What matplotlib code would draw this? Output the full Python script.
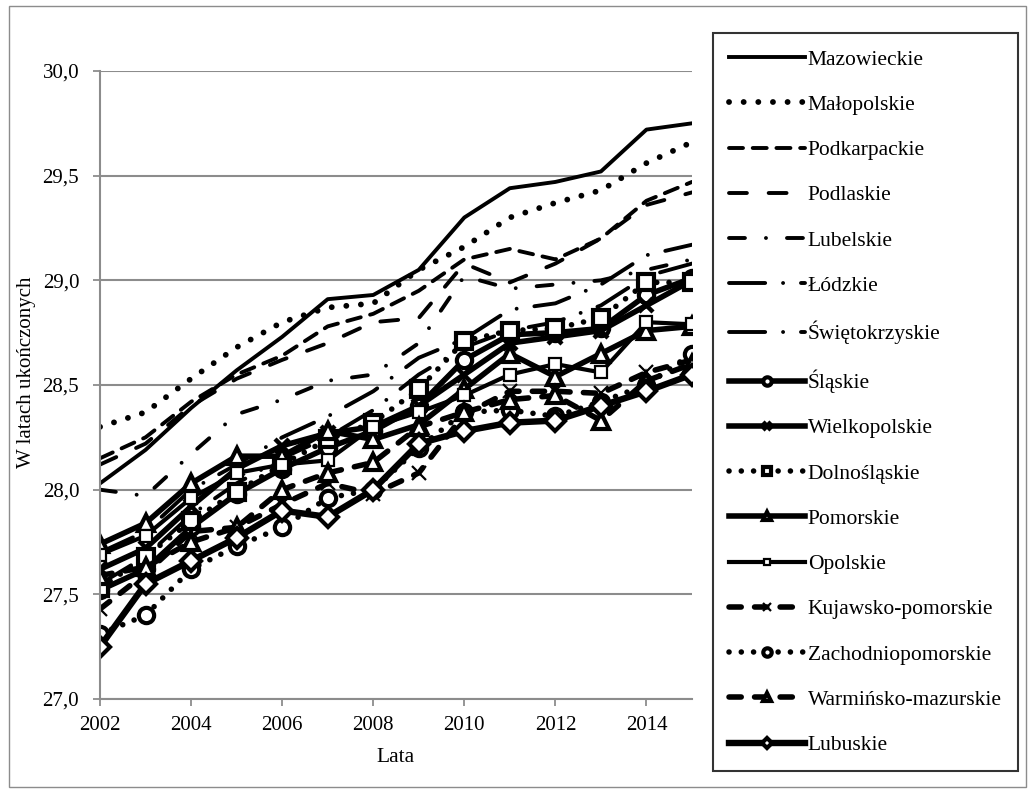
import matplotlib
matplotlib.use("Agg")
import matplotlib.pyplot as plt
from matplotlib.patches import Rectangle
from matplotlib.ticker import FuncFormatter

plt.rcParams['font.family'] = ['Liberation Serif', 'DejaVu Serif']

years = list(range(2002, 2016))

mazowieckie = [28.03, 28.19, 28.39, 28.57, 28.73, 28.91, 28.93, 29.05, 29.30, 29.44, 29.47, 29.52, 29.72, 29.75]
malopolskie = [28.30, 28.37, 28.53, 28.68, 28.80, 28.87, 28.89, 29.05, 29.16, 29.30, 29.37, 29.43, 29.56, 29.66]
podkarpackie = [28.15, 28.25, 28.42, 28.55, 28.64, 28.78, 28.84, 28.95, 29.10, 29.15, 29.10, 29.20, 29.38, 29.47]
podlaskie = [28.12, 28.22, 28.40, 28.53, 28.62, 28.70, 28.80, 28.82, 29.08, 28.99, 29.08, 29.20, 29.36, 29.42]
lubelskie = [28.00, 27.97, 28.17, 28.36, 28.43, 28.52, 28.55, 28.70, 29.02, 28.96, 28.98, 29.00, 29.05, 29.10]
lodzkie = [27.70, 27.80, 28.00, 28.12, 28.25, 28.35, 28.47, 28.63, 28.72, 28.86, 28.89, 28.98, 29.12, 29.17]
swietokrzyskie = [27.55, 27.68, 27.88, 28.03, 28.15, 28.25, 28.38, 28.55, 28.68, 28.76, 28.80, 28.88, 29.02, 29.08]
slaskie = [27.52, 27.62, 27.82, 27.98, 28.10, 28.20, 28.28, 28.40, 28.62, 28.74, 28.75, 28.77, 28.93, 29.01]
wielkopolskie = [27.62, 27.72, 27.92, 28.10, 28.21, 28.27, 28.30, 28.40, 28.55, 28.70, 28.73, 28.76, 28.88, 29.00]
dolnoslaskie = [27.53, 27.68, 27.85, 27.99, 28.12, 28.24, 28.32, 28.48, 28.71, 28.76, 28.77, 28.82, 28.99, 28.99]
pomorskie = [27.74, 27.84, 28.03, 28.16, 28.16, 28.28, 28.24, 28.31, 28.48, 28.65, 28.54, 28.65, 28.76, 28.78]
opolskie = [27.69, 27.78, 27.96, 28.08, 28.12, 28.14, 28.30, 28.37, 28.45, 28.55, 28.60, 28.56, 28.80, 28.79]
kujawsko = [27.43, 27.60, 27.80, 27.82, 27.93, 28.03, 27.98, 28.08, 28.36, 28.47, 28.47, 28.46, 28.56, 28.62]
zachodniopomorskie = [27.31, 27.40, 27.62, 27.73, 27.82, 27.96, 28.00, 28.20, 28.37, 28.38, 28.35, 28.42, 28.50, 28.65]
warminsko = [27.59, 27.63, 27.75, 27.82, 28.00, 28.08, 28.13, 28.30, 28.37, 28.43, 28.45, 28.33, 28.52, 28.60]
lubuskie = [27.25, 27.55, 27.66, 27.77, 27.90, 27.87, 28.00, 28.22, 28.28, 28.32, 28.33, 28.40, 28.47, 28.55]

fig = plt.figure(figsize=(10.29, 7.93), dpi=100)
ax = fig.add_axes([0.0972, 0.1185, 0.5753, 0.792])

thin = 2.8
thick = 4.0
dots = (0, (0.01, 2.2))
dashes = (0, (2.2, 2.4))

ax.plot(years, mazowieckie, color='black', lw=thin, label='Mazowieckie')
ax.plot(years, malopolskie, color='black', lw=4.2, ls=(0, (0.01, 2.5)),
        dash_capstyle='round', label='Małopolskie')
ax.plot(years, podkarpackie, color='black', lw=thin, ls=(0, (3.6, 2.5)),
        dash_capstyle='round', label='Podkarpackie')
ax.plot(years, podlaskie, color='black', lw=thin, ls=(0, (4.6, 5.6)),
        dash_capstyle='round', label='Podlaskie')
ax.plot(years, lubelskie, color='black', lw=thin, ls=(0, (4.1, 5.4, 0.01, 5.4)),
        dash_capstyle='round', label='Lubelskie')
ax.plot(years, lodzkie, color='black', lw=thin, ls=(0, (9.3, 4.6, 0.01, 4.6)),
        dash_capstyle='round', label='Łódzkie')
ax.plot(years, swietokrzyskie, color='black', lw=thin, ls=(0, (9.3, 4.6, 0.01, 4.6)),
        dash_capstyle='round', label='Świętokrzyskie')
ax.plot(years, slaskie, color='black', lw=thick, marker='o', ms=11,
        mfc='white', mec='black', mew=3, label='Śląskie')
ax.plot(years, wielkopolskie, color='black', lw=thick, marker='x', ms=10,
        mec='black', mew=3.2, label='Wielkopolskie')
ax.plot(years, dolnoslaskie, color='black', lw=thick, ls=dots, dash_capstyle='round',
        marker='s', ms=11, mfc='white', mec='black', mew=3, label='Dolnośląskie')
ax.plot(years, pomorskie, color='black', lw=thick, marker='^', ms=11,
        mfc='white', mec='black', mew=3, label='Pomorskie')
ax.plot(years, opolskie, color='black', lw=3, marker='s', ms=9,
        mfc='white', mec='black', mew=1.6, label='Opolskie')
ax.plot(years, kujawsko, color='black', lw=thick, ls=dashes, dash_capstyle='round',
        marker='x', ms=10, mec='black', mew=1.6, label='Kujawsko-pomorskie')
ax.plot(years, zachodniopomorskie, color='black', lw=thick, ls=dots, dash_capstyle='round',
        marker='o', ms=11, mfc='white', mec='black', mew=3, label='Zachodniopomorskie')
ax.plot(years, warminsko, color='black', lw=thick, ls=dashes, dash_capstyle='round',
        marker='^', ms=11, mfc='white', mec='black', mew=3, label='Warmińsko-mazurskie')
ax.plot(years, lubuskie, color='black', lw=4.6, marker='D', ms=10,
        mfc='white', mec='black', mew=3, label='Lubuskie')

ax.set_xlim(2002, 2015)
ax.set_ylim(27.0, 30.0)
ax.set_xticks(range(2002, 2015, 2))
ax.set_yticks([27.0, 27.5, 28.0, 28.5, 29.0, 29.5, 30.0])
ax.yaxis.set_major_formatter(FuncFormatter(lambda v, p: f"{v:.1f}".replace('.', ',')))
ax.tick_params(labelsize=15, color='#8c8c8c', length=5, width=1.3)
ax.tick_params(axis='y', pad=10)
ax.tick_params(axis='x', pad=7)
ax.grid(axis='y', color='#8c8c8c', lw=1.5)
ax.set_axisbelow(True)
for s in ['top', 'right']:
    ax.spines[s].set_visible(False)
for s in ['left', 'bottom']:
    ax.spines[s].set_color('#8c8c8c')
    ax.spines[s].set_linewidth(1.5)

fig.text(0.026, 0.53, 'W latach ukończonych', rotation=90, ha='center', va='center', fontsize=15)
fig.text(0.3848, 0.045, 'Lata', ha='center', va='center', fontsize=15.5)

leg = ax.legend(loc='upper left', bbox_to_anchor=(0.693, 0.958), bbox_transform=fig.transFigure,
                fontsize=15.5, frameon=True, fancybox=False, edgecolor='black',
                handlelength=3.5, handletextpad=0.15, labelspacing=1.17,
                borderpad=0.75, borderaxespad=0, markerscale=0.55)
leg.get_frame().set_linewidth(1.5)

fig.patches.append(Rectangle((0.009, 0.008), 0.988, 0.984, transform=fig.transFigure,
                             fill=False, edgecolor='#8c8c8c', lw=1))

fig.savefig('out.png', dpi=100)
